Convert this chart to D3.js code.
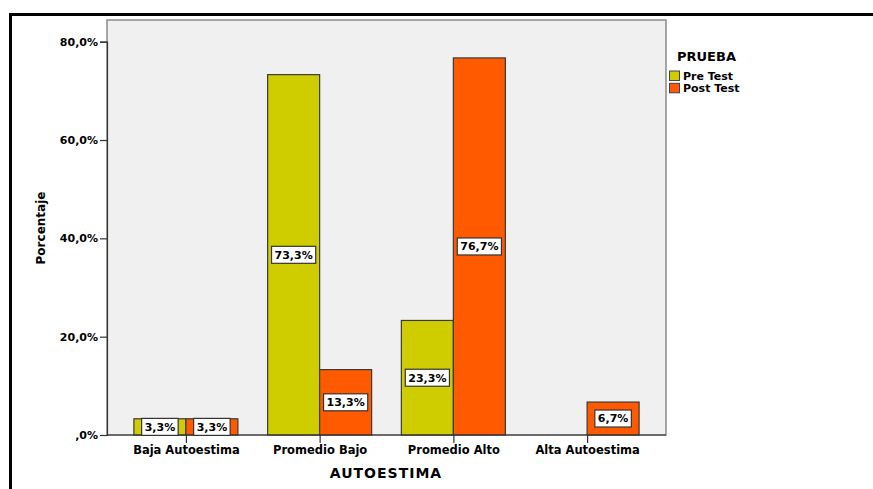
<!DOCTYPE html>
<html>
<head>
<meta charset="utf-8">
<script src="https://cdn.jsdelivr.net/npm/d3@7"></script>
<style>
  html, body { margin: 0; padding: 0; background: #fff; }
  svg { display: block; }
  text { font-family: "DejaVu Sans", Verdana, sans-serif; font-weight: bold; fill: #000; }
</style>
</head>
<body>
<svg id="chart" width="873" height="489"></svg>
<script>
// Categories of self-esteem level
const categories = ["Baja Autoestima", "Promedio Bajo", "Promedio Alto", "Alta Autoestima"];
// Series: test moment
const seriesNames = ["Pre Test", "Post Test"];
const preTest = [3.3, 73.3, 23.3, 0];
const postTest = [3.3, 13.3, 76.7, 6.7];
const yTicks = [0, 20, 40, 60, 80];
const seriesColors = ["#cfcc00", "#ff5a00"];

const FONT = "'DejaVu Sans', Verdana, sans-serif";
const svg = d3.select("#chart");
const W = 873, H = 489;

// Outer frame (top and left rules)
svg.append("line").attr("x1", 10).attr("x2", W).attr("y1", 14.5).attr("y2", 14.5)
  .attr("stroke", "#000").attr("stroke-width", 3);
svg.append("line").attr("x1", 10.5).attr("x2", 10.5).attr("y1", 13).attr("y2", H)
  .attr("stroke", "#000").attr("stroke-width", 3);

const plot = { left: 107, right: 666, top: 20, bottom: 435 };

const x = d3.scalePoint().domain(categories).range([plot.left, plot.right]).padding(0.59);
const y = d3.scaleLinear().domain([0, 80]).range([plot.bottom, 41.7]);
const barW = 52;

// Plot background
svg.append("rect")
  .attr("x", plot.left).attr("y", plot.top)
  .attr("width", plot.right - plot.left).attr("height", plot.bottom - plot.top)
  .attr("fill", "#f0f0f0").attr("stroke", "#8a8a8a").attr("stroke-width", 1.5);

// Y axis
const yAxis = d3.axisLeft(y).tickValues(yTicks).tickSize(7).tickPadding(2)
  .tickFormat(d => (d === 0 ? ",0" : d3.format(".1f")(d).replace(".", ",")) + "%");
const gy = svg.append("g").attr("transform", `translate(${plot.left},0)`).call(yAxis);
gy.select(".domain").attr("stroke", "#333").attr("stroke-width", 1.2);
gy.selectAll(".tick line").attr("stroke", "#333").attr("stroke-width", 1.2);
gy.selectAll(".tick text").style("font-size", "11px").style("font-family", FONT).style("font-weight", "bold");

// Bars
const data = [];
categories.forEach((c, i) => {
  data.push({ cat: c, s: 0, v: preTest[i] });
  data.push({ cat: c, s: 1, v: postTest[i] });
});

const bars = svg.append("g");
bars.selectAll("rect").data(data).join("rect")
  .attr("x", d => x(d.cat) + (d.s === 0 ? -barW : 0))
  .attr("y", d => y(d.v))
  .attr("width", barW)
  .attr("height", d => y(0) - y(d.v))
  .attr("fill", d => seriesColors[d.s])
  .attr("stroke", "#3a3a3a").attr("stroke-width", 1.2);

// X axis
const xAxis = d3.axisBottom(x).tickSize(8).tickPadding(3);
const gx = svg.append("g").attr("transform", `translate(0,${plot.bottom})`).call(xAxis);
gx.select(".domain").attr("stroke", "#333").attr("stroke-width", 1.2).attr("d", `M${plot.left},0H${plot.right}`);
gx.selectAll(".tick line").attr("stroke", "#333").attr("stroke-width", 1.2);
gx.selectAll(".tick text").style("font-size", "11.5px").style("font-family", FONT).style("font-weight", "bold");

// Value labels
const fmt = v => d3.format(".1f")(v).replace(".", ",") + "%";
const labelData = data.filter(d => d.v > 0);
const lg = svg.append("g").selectAll("g").data(labelData).join("g")
  .attr("transform", d => {
    const cx = x(d.cat) + (d.s === 0 ? -barW / 2 : barW / 2);
    const cy = (y(d.v) + y(0)) / 2;
    return `translate(${cx},${cy})`;
  });
lg.append("text")
  .attr("text-anchor", "middle").attr("dy", "0.36em")
  .style("font-size", "11px")
  .text(d => fmt(d.v))
  .each(function () {
    const b = this.getBBox();
    d3.select(this.parentNode).insert("rect", "text")
      .attr("x", b.x - 3).attr("y", -8.5)
      .attr("width", b.width + 6).attr("height", 17)
      .attr("fill", "#fff").attr("stroke", "#333").attr("stroke-width", 1.2);
  });

// Axis titles
svg.append("text").attr("x", 386).attr("y", 478).attr("text-anchor", "middle")
  .style("font-size", "14px").style("letter-spacing", "1px").text("AUTOESTIMA");
svg.append("text").attr("transform", "translate(45,228) rotate(-90)").attr("text-anchor", "middle")
  .style("font-size", "12px").text("Porcentaje");

// Legend
const legend = svg.append("g").attr("transform", "translate(669,0)");
legend.append("text").attr("x", 8).attr("y", 61).style("font-size", "13px").text("PRUEBA");
seriesNames.forEach((n, i) => {
  legend.append("rect").attr("x", 0.5).attr("y", 71 + i * 12.3).attr("width", 10).attr("height", 9.5)
    .attr("fill", seriesColors[i]).attr("stroke", "#444").attr("stroke-width", 1);
  legend.append("text").attr("x", 14).attr("y", 80 + i * 12.3).style("font-size", "11px").text(n);
});
</script>
</body>
</html>
